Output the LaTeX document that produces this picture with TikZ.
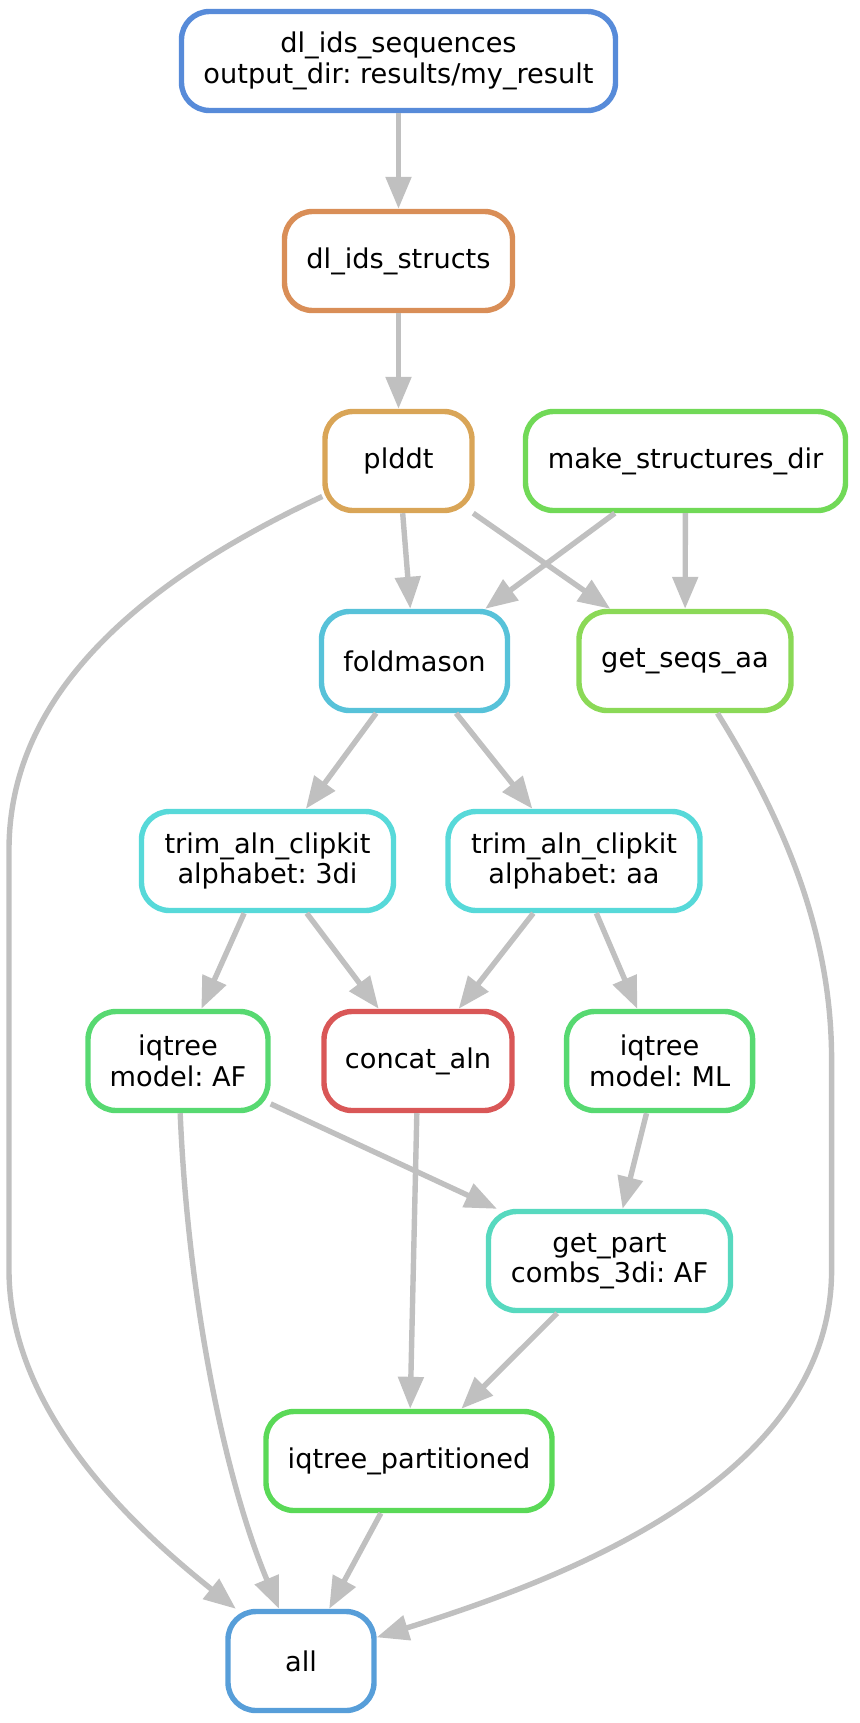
\documentclass[tikz,border=0pt]{standalone}
\usepackage{fontspec}
\setmainfont{DejaVu Sans}
\usetikzlibrary{arrows.meta}
\frenchspacing
\definecolor{cseq}{RGB}{87,139,217}
\definecolor{cstructs}{RGB}{217,142,87}
\definecolor{cplddt}{RGB}{217,165,87}
\definecolor{cmake}{RGB}{113,217,87}
\definecolor{cfold}{RGB}{87,194,217}
\definecolor{cgetseq}{RGB}{139,217,87}
\definecolor{ctrim}{RGB}{87,217,217}
\definecolor{ciq}{RGB}{87,217,113}
\definecolor{cconcat}{RGB}{217,87,87}
\definecolor{cpart}{RGB}{87,217,191}
\definecolor{ciqp}{RGB}{90,217,87}
\definecolor{call}{RGB}{87,158,217}
\definecolor{cedge}{RGB}{192,192,192}
\begin{document}
\begin{tikzpicture}[x=0.5pt,y=-0.5pt,
  job/.style={draw, line width=2.7pt, rounded corners=14pt, align=center,
    inner sep=0pt, minimum height=49.5pt, text=black,
    font=\fontsize{13.6}{15.2}\selectfont\frenchspacing},
  edge/.style={draw=cedge, line width=2.7pt,
    -{Triangle[length=16pt,width=12.5pt]}}]
\useasboundingbox (0,0) rectangle (859,1723);

\node[job, draw=cseq, minimum width=217pt] (seq) at (398.5,61) {dl\_ids\_sequences\\output\_dir: results/my\_result};
\node[job, draw=cstructs, minimum width=114pt] (structs) at (398.5,261) {dl\_ids\_structs};
\node[job, draw=cplddt, minimum width=73.5pt] (plddt) at (398.5,461) {plddt};
\node[job, draw=cmake, minimum width=160pt] (make) at (685.5,461) {make\_structures\_dir};
\node[job, draw=cfold, minimum width=93pt] (fold) at (414.5,661) {foldmason};
\node[job, draw=cgetseq, minimum width=106pt] (getseq) at (685,661) {get\_seqs\_aa};
\node[job, draw=ctrim, minimum width=126pt] (trimdi) at (267.5,861) {trim\_aln\_clipkit\\alphabet: 3di};
\node[job, draw=ctrim, minimum width=126pt] (trimaa) at (574,861) {trim\_aln\_clipkit\\alphabet: aa};
\node[job, draw=ciq, minimum width=90pt] (iqaf) at (178,1061) {iqtree\\model: AF};
\node[job, draw=cconcat, minimum width=94pt] (concat) at (418,1061) {concat\_aln};
\node[job, draw=ciq, minimum width=93pt] (iqml) at (659.6,1061) {iqtree\\model: ML};
\node[job, draw=cpart, minimum width=121pt] (part) at (609.5,1261) {get\_part\\combs\_3di: AF};
\node[job, draw=ciqp, minimum width=143pt] (iqp) at (409,1461) {iqtree\_partitioned};
\node[job, draw=call, minimum width=73pt] (all) at (301,1661) {all};

\draw[edge] (seq) -- (structs);
\draw[edge] (structs) -- (plddt);
\draw[edge] (plddt) -- (fold);
\draw[edge] (plddt) -- (getseq);
\draw[edge] (make) -- (fold);
\draw[edge] (make) -- (getseq);
\draw[edge] (fold) -- (trimdi);
\draw[edge] (fold) -- (trimaa);
\draw[edge] (trimdi) -- (iqaf);
\draw[edge] (trimdi) -- (concat);
\draw[edge] (trimaa) -- (concat);
\draw[edge] (trimaa) -- (iqml);
\draw[edge] (iqaf) -- (part);
\draw[edge] (iqml) -- (part);
\draw[edge] (concat) -- (iqp);
\draw[edge] (part) -- (iqp);
\draw[edge] (iqp) -- (all);
\draw[edge] (plddt) .. controls (100,600) and (9,720) .. (9,850) -- (9,1270)
  .. controls (9,1420) and (150,1540) .. (all);
\draw[edge] (getseq) .. controls (790,830) and (831.6,940) .. (831.6,1060) -- (831.6,1270)
  .. controls (831.6,1480) and (560,1580) .. (all);
\draw[edge] (iqaf) .. controls (188,1300) and (225,1480) .. (all);
\end{tikzpicture}
\end{document}
